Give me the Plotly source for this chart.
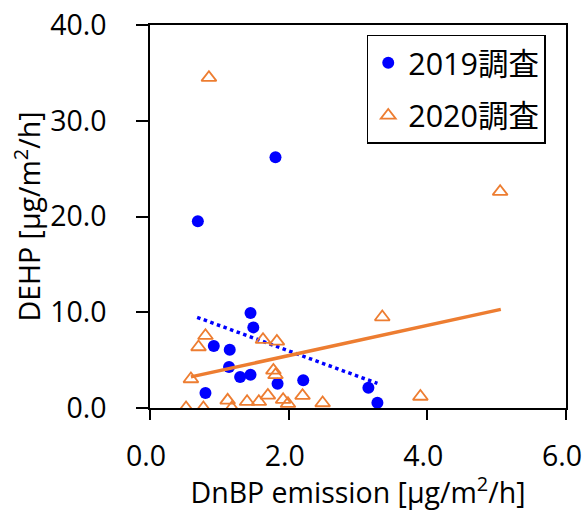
import plotly.graph_objects as go

# 2019 survey (blue circles)
x2019 = [0.69, 1.81, 1.45, 1.49, 0.92, 1.15, 1.14, 1.30, 1.45, 1.84, 2.21, 0.80, 3.15, 3.28]
y2019 = [19.5, 26.2, 9.93, 8.42, 6.48, 6.09, 4.28, 3.24, 3.48, 2.54, 2.89, 1.57, 2.12, 0.55]

# 2020 survey (orange triangles)
x2020 = [0.85, 5.05, 3.35, 0.80, 0.70, 1.63, 1.83, 0.59, 1.78, 1.81, 1.70, 2.20, 1.12,
         1.40, 1.57, 1.92, 1.99, 2.49, 0.52, 0.77, 1.18, 3.90]
y2020 = [34.5, 22.6, 9.5, 7.55, 6.37, 7.14, 6.96, 3.03, 3.93, 3.45, 1.32, 1.29, 0.80,
         0.66, 0.66, 0.87, 0.45, 0.52, 0.0, 0.0, 0.0, 1.2]

# Trend lines (endpoints)
trend2019_x = [0.68, 3.28]
trend2019_y = [9.47, 2.57]
trend2020_x = [0.59, 5.06]
trend2020_y = [3.25, 10.3]

xticks = [0, 2, 4, 6]
xticklabels = ["0.0", "2.0", "4.0", "6.0"]
yticks = [0, 10, 20, 30, 40]
yticklabels = ["0.0", "10.0", "20.0", "30.0", "40.0"]
yrange = [0, 40]

FONT = "'Open Sans', 'Noto Sans CJK JP', sans-serif"
BLUE = "#0000FF"
ORANGE = "#ED7D31"
FS = 28.5
PAD = "\u2007\u00a0"  # spacing between y tick labels and tick marks

fig = go.Figure()
fig.add_trace(go.Scatter(x=trend2019_x, y=trend2019_y, mode="lines",
                         line=dict(color=BLUE, width=3.5, dash="dot"),
                         showlegend=False, hoverinfo="skip"))
fig.add_trace(go.Scatter(x=trend2020_x, y=trend2020_y, mode="lines", yaxis="y2",
                         line=dict(color=ORANGE, width=3.5),
                         showlegend=False, hoverinfo="skip"))
fig.add_trace(go.Scatter(x=x2019, y=y2019, mode="markers", name="2019調査",
                         legendgroup="a",
                         marker=dict(symbol="circle", size=12, color=BLUE)))
fig.add_trace(go.Scatter(x=x2020, y=y2020, mode="markers", name="2020調査",
                         legendgroup="b",
                         marker=dict(symbol="triangle-up-open", size=13, color=ORANGE,
                                     line=dict(width=1.8, color=ORANGE))))

fig.update_layout(
    width=587, height=511,
    margin=dict(l=150, r=21, t=25, b=103),
    paper_bgcolor="white", plot_bgcolor="white",
    font=dict(family=FONT, size=FS, color="black"),
    showlegend=True,
    legend=dict(x=0.521, y=0.974, xanchor="left", yanchor="top",
                bgcolor="white", bordercolor="black", borderwidth=1.5,
                font=dict(size=30.5), tracegroupgap=10,
                itemsizing="trace"),
    xaxis=dict(range=[0, 6], tickvals=xticks, ticktext=xticklabels,
               showline=True, linecolor="black", linewidth=2, mirror=True,
               ticks="outside", ticklen=10, tickwidth=2, tickcolor="black",
               ticklabelstandoff=12, ticklabelshift=-4, ticklabeloverflow="allow",
               showgrid=False, zeroline=False, automargin=False,
               title=dict(text="DnBP emission [μg/m<sup>2</sup>/h]", standoff=4,
                          font=dict(size=FS))),
    yaxis=dict(range=yrange, tickvals=yticks,
               ticktext=[t + PAD for t in yticklabels],
               showline=True, linecolor="black", linewidth=2, mirror=True,
               ticks="outside", ticklen=12, tickwidth=2, tickcolor="black",
               ticklabeloverflow="allow",
               showgrid=False, zeroline=False, automargin=False),
    # carries the y title at a set distance from the axis line
    yaxis2=dict(range=yrange, overlaying="y", side="left", anchor="x",
                showline=False, ticks="", showticklabels=False,
                showgrid=False, zeroline=False, automargin=False,
                title=dict(text="DEHP [μg/m<sup>2</sup>/h]", standoff=100,
                           font=dict(size=FS))),
)

fig.write_html("out.html", post_script="document.body.style.margin='0px';",
               config={"displayModeBar": False})
